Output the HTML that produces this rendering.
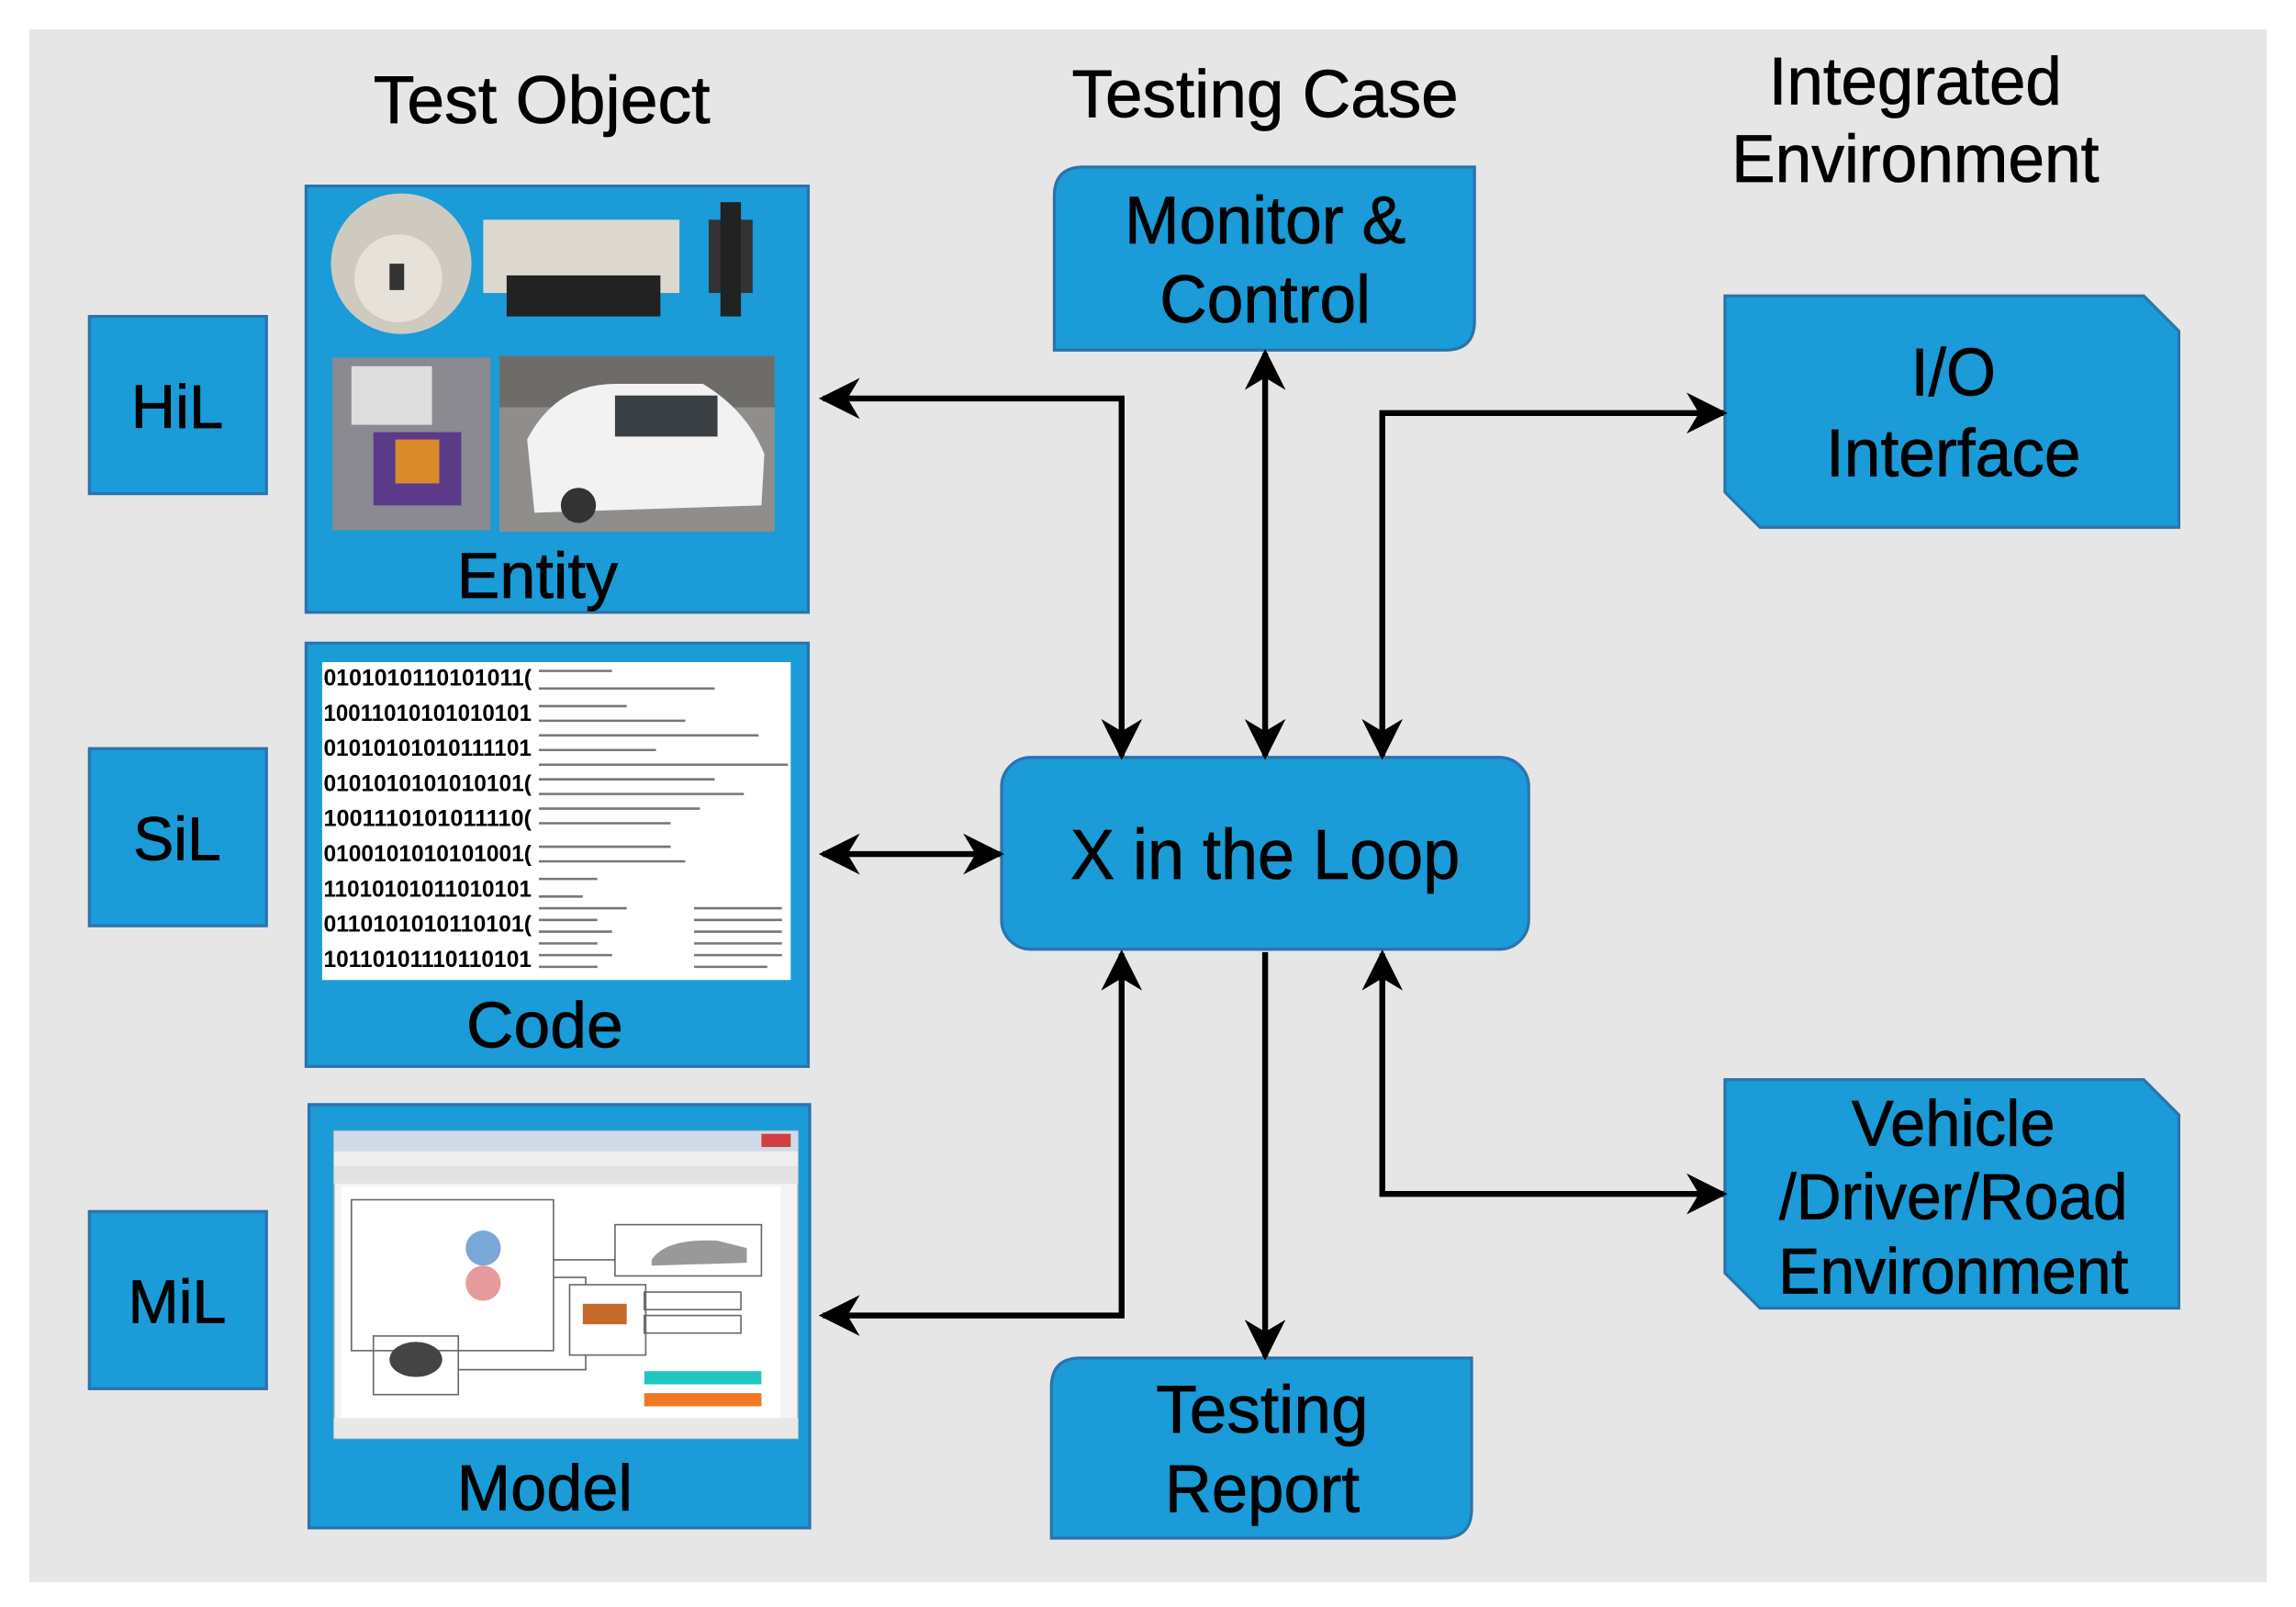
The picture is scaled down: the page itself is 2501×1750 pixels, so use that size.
<!DOCTYPE html>
<html><head><meta charset="utf-8"><style>
html,body{margin:0;padding:0;background:#fff;width:2501px;height:1750px;overflow:hidden}
svg{display:block}
text{font-family:"Liberation Sans",sans-serif;fill:#000}
.lb{stroke:#000;stroke-width:0.5}
</style></head><body>
<svg width="2501" height="1750" viewBox="0 0 1568 1097" preserveAspectRatio="none" xmlns="http://www.w3.org/2000/svg">
<defs>
<marker id="ah" viewBox="0 0 20 20" refX="18" refY="10" markerWidth="7" markerHeight="7" markerUnits="strokeWidth" orient="auto-start-reverse">
<path d="M0,0 L20,10 L0,20 L6,10 Z" fill="#000"/>
</marker>
</defs>
<rect x="0" y="0" width="1568" height="1097" fill="#fff"/>
<rect x="20" y="20" width="1528" height="1060" fill="#e6e6e6"/>

<g class="lb">
<text x="370" y="84" font-size="46" text-anchor="middle" textLength="230" lengthAdjust="spacingAndGlyphs">Test Object</text>
<text x="864" y="80" font-size="46" text-anchor="middle" textLength="264" lengthAdjust="spacingAndGlyphs">Testing Case</text>
<text x="1308" y="71" font-size="46" text-anchor="middle" textLength="200" lengthAdjust="spacingAndGlyphs">Integrated</text>
<text x="1308" y="124" font-size="46" text-anchor="middle" textLength="251" lengthAdjust="spacingAndGlyphs">Environment</text>
</g>

<g fill="#1b9bd7" stroke="#2a73ae" stroke-width="2">
<rect x="61" y="216" width="121" height="121"/>
<rect x="61" y="511" width="121" height="121"/>
<rect x="61" y="827" width="121" height="121"/>
<rect x="209" y="127" width="343" height="291"/>
<rect x="209" y="439" width="343" height="289"/>
<rect x="211" y="754" width="342" height="289"/>
<path d="M740,114 H1007 V219 Q1007,239 987,239 H720 V134 Q720,114 740,114 Z"/>
<path d="M738,927 H1005 V1030 Q1005,1050 985,1050 H718 V947 Q718,927 738,927 Z"/>
<rect x="684" y="517" width="360" height="131" rx="20"/>
<path d="M1178,202 H1464 L1488,226 V360 H1202 L1178,336 Z"/>
<path d="M1178,737 H1464 L1488,761 V893 H1202 L1178,869 Z"/>
</g>

<g class="lb">
<text x="121" y="292" font-size="42" text-anchor="middle" textLength="63" lengthAdjust="spacingAndGlyphs">HiL</text>
<text x="121" y="587" font-size="42" text-anchor="middle" textLength="60" lengthAdjust="spacingAndGlyphs">SiL</text>
<text x="121" y="903" font-size="42" text-anchor="middle" textLength="67" lengthAdjust="spacingAndGlyphs">MiL</text>
</g>

<circle cx="274" cy="180" r="48" fill="#cfcac0"/>
<circle cx="272" cy="190" r="30" fill="#e6e2da"/>
<rect x="266" y="180" width="10" height="18" fill="#333"/>
<rect x="330" y="150" width="134" height="50" fill="#dcd8cf"/>
<rect x="346" y="188" width="105" height="28" fill="#222"/>
<rect x="484" y="150" width="30" height="50" fill="#333"/>
<rect x="492" y="138" width="14" height="78" fill="#222"/>
<rect x="227" y="244" width="108" height="118" fill="#8a8a90"/>
<rect x="240" y="250" width="55" height="40" fill="#ddd"/>
<rect x="255" y="295" width="60" height="50" fill="#5b3a8a"/>
<rect x="270" y="300" width="30" height="30" fill="#d98a2a"/>
<rect x="341" y="243" width="188" height="120" fill="#8f8e8c"/>
<rect x="341" y="243" width="188" height="35" fill="#6d6c68"/>
<path d="M360,300 Q380,262 420,262 L480,262 Q510,280 522,310 L520,345 L365,350 Z" fill="#f2f2f2"/>
<rect x="420" y="270" width="70" height="28" fill="#3a3f44"/>
<circle cx="395" cy="345" r="12" fill="#333"/>

<text class="lb" x="367" y="408" font-size="44" text-anchor="middle" textLength="110" lengthAdjust="spacingAndGlyphs">Entity</text>

<rect x="220" y="452" width="320" height="217" fill="#fff"/>
<g font-size="15.5" font-weight="bold" font-family="Liberation Mono,monospace">
<text x="221" y="468" textLength="142" lengthAdjust="spacingAndGlyphs">0101010110101011(</text>
<text x="221" y="492" textLength="142" lengthAdjust="spacingAndGlyphs">10011010101010101</text>
<text x="221" y="516" textLength="142" lengthAdjust="spacingAndGlyphs">01010101010111101</text>
<text x="221" y="540" textLength="142" lengthAdjust="spacingAndGlyphs">0101010101010101(</text>
<text x="221" y="564" textLength="142" lengthAdjust="spacingAndGlyphs">1001110101011110(</text>
<text x="221" y="588" textLength="142" lengthAdjust="spacingAndGlyphs">0100101010101001(</text>
<text x="221" y="612" textLength="142" lengthAdjust="spacingAndGlyphs">11010101011010101</text>
<text x="221" y="636" textLength="142" lengthAdjust="spacingAndGlyphs">0110101010110101(</text>
<text x="221" y="660" textLength="142" lengthAdjust="spacingAndGlyphs">10110101110110101</text>
</g>
<g stroke="#777" stroke-width="1.6">
<path d="M368,458h50M368,470h120M368,482h60M368,492h100M368,502h150M368,512h80M368,522h170M368,532h120M368,542h140M368,552h110M368,562h90M368,578h90M368,588h100M368,600h40M368,612h30M368,620h60M368,628h40M368,636h50M368,644h40M368,652h50M368,660h40"/>
<path d="M474,620h60M474,628h60M474,636h60M474,644h60M474,652h60M474,660h50"/>
</g>
<text class="lb" x="372" y="715" font-size="44" text-anchor="middle" textLength="107" lengthAdjust="spacingAndGlyphs">Code</text>

<rect x="228" y="772" width="317" height="210" fill="#f4f4f4" stroke="#8aa" stroke-width="1"/>
<rect x="228" y="772" width="317" height="14" fill="#cfdbe8"/>
<rect x="520" y="774" width="20" height="9" fill="#d04040"/>
<rect x="228" y="786" width="317" height="10" fill="#eee"/>
<rect x="228" y="796" width="317" height="12" fill="#e2e2e2"/>
<rect x="233" y="810" width="300" height="160" fill="#fff"/>
<g fill="none" stroke="#666" stroke-width="1">
<rect x="240" y="819" width="138" height="103"/>
<rect x="420" y="836" width="100" height="35"/>
<rect x="389" y="877" width="52" height="48"/>
<rect x="255" y="912" width="58" height="40"/>
<rect x="440" y="882" width="66" height="12"/>
<rect x="440" y="898" width="66" height="12"/>
<path d="M378,860 H420 M378,872 H400 V877 M313,935 H400 V925"/>
</g>
<circle cx="330" cy="852" r="12" fill="#7aa8d8"/>
<circle cx="330" cy="876" r="12" fill="#e79a9a"/>
<path d="M445,860 Q455,845 490,847 L510,852 L510,862 L445,864Z" fill="#999"/>
<rect x="398" y="890" width="30" height="14" fill="#c46a2a"/>
<ellipse cx="284" cy="928" rx="18" ry="12" fill="#444"/>
<rect x="440" y="936" width="80" height="9" fill="#1fc7c0"/>
<rect x="440" y="951" width="80" height="9" fill="#f07820"/>
<rect x="228" y="968" width="317" height="14" fill="#e8e8e8"/>
<g class="lb">
<text x="372" y="1031" font-size="44" text-anchor="middle" textLength="120" lengthAdjust="spacingAndGlyphs">Model</text>

<text x="864" y="166" font-size="46" text-anchor="middle" textLength="192" lengthAdjust="spacingAndGlyphs">Monitor &amp;</text>
<text x="864" y="220" font-size="46" text-anchor="middle" textLength="144" lengthAdjust="spacingAndGlyphs">Control</text>
<text x="864" y="600" font-size="48" text-anchor="middle" textLength="266" lengthAdjust="spacingAndGlyphs">X in the Loop</text>
<text x="862" y="978" font-size="46" text-anchor="middle" textLength="145" lengthAdjust="spacingAndGlyphs">Testing</text>
<text x="862" y="1032" font-size="46" text-anchor="middle" textLength="133" lengthAdjust="spacingAndGlyphs">Report</text>
<text x="1334" y="270" font-size="46" text-anchor="middle" textLength="58" lengthAdjust="spacingAndGlyphs">I/O</text>
<text x="1334" y="325" font-size="46" text-anchor="middle" textLength="174" lengthAdjust="spacingAndGlyphs">Interface</text>
<text x="1334" y="782" font-size="44" text-anchor="middle" textLength="139" lengthAdjust="spacingAndGlyphs">Vehicle</text>
<text x="1334" y="832" font-size="44" text-anchor="middle" textLength="238" lengthAdjust="spacingAndGlyphs">/Driver/Road</text>
<text x="1334" y="883" font-size="44" text-anchor="middle" textLength="239" lengthAdjust="spacingAndGlyphs">Environment</text>
</g>

<g fill="none" stroke="#000" stroke-width="4">
<path d="M562,272 H766 V516" marker-start="url(#ah)" marker-end="url(#ah)"/>
<path d="M864,241 V516" marker-start="url(#ah)" marker-end="url(#ah)"/>
<path d="M944,516 V282 H1177" marker-start="url(#ah)" marker-end="url(#ah)"/>
<path d="M562,583 H683" marker-start="url(#ah)" marker-end="url(#ah)"/>
<path d="M562,898 H766 V651" marker-start="url(#ah)" marker-end="url(#ah)"/>
<path d="M864,650 V926" marker-end="url(#ah)"/>
<path d="M944,651 V815 H1177" marker-start="url(#ah)" marker-end="url(#ah)"/>
</g>
</svg>
</body></html>
